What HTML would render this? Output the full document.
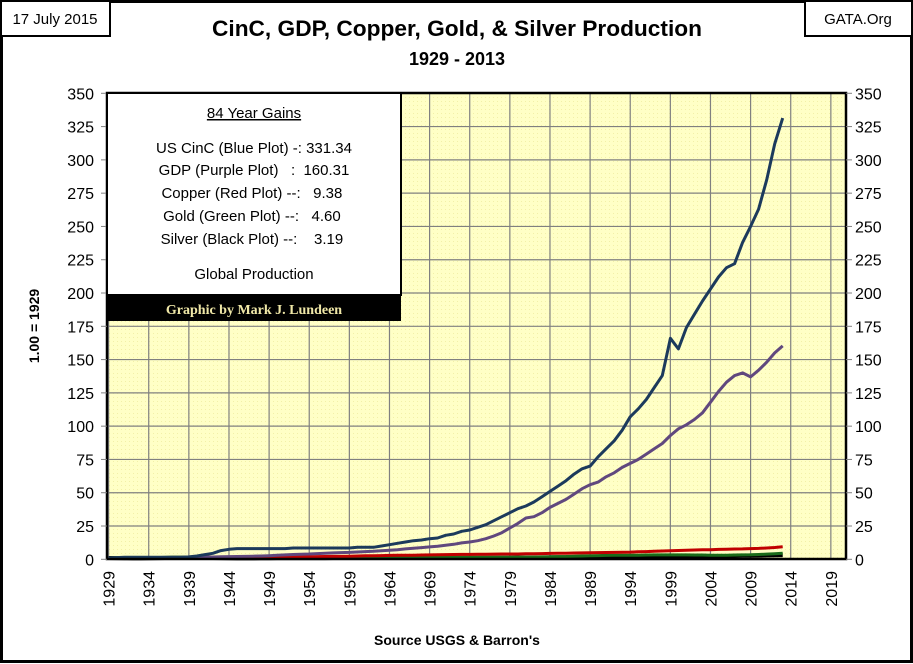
<!DOCTYPE html>
<html><head><meta charset="utf-8"><style>
html,body{margin:0;padding:0;background:#fff}
svg{display:block}
text{font-family:"Liberation Sans",Arial,sans-serif}
.pre{white-space:pre}
</style></head><body>
<svg id="chart" width="913" height="664" viewBox="0 0 913 664" xmlns="http://www.w3.org/2000/svg">
<defs>
<pattern id="dots" width="4" height="4" patternUnits="userSpaceOnUse"><rect width="4" height="4" fill="#ffffc6"/><rect x="1" y="1" width="1" height="1" fill="#f2f0a8"/></pattern>
</defs>
<rect x="1.5" y="1.5" width="910" height="660" fill="#fff" stroke="#000" stroke-width="3"/>
<rect x="107" y="93" width="739" height="466" fill="url(#dots)"/>
<g id="grid"></g>
<g id="series"></g>
<rect x="107" y="93" width="739" height="466" fill="none" stroke="#000" stroke-width="2.5"/>
<g id="axes"></g>
<rect x="1" y="1" width="109" height="35" fill="#fff" stroke="#000" stroke-width="2"/>
<text x="55" y="24" font-size="15" text-anchor="middle">17 July 2015</text>
<rect x="805" y="1" width="107" height="35" fill="#fff" stroke="#000" stroke-width="2"/>
<text x="858" y="24" font-size="15" text-anchor="middle">GATA.Org</text>
<text x="457" y="36" font-size="22" font-weight="bold" text-anchor="middle" textLength="490" lengthAdjust="spacingAndGlyphs">CinC, GDP, Copper, Gold, &amp; Silver Production</text>
<text x="457" y="65" font-size="18" font-weight="bold" text-anchor="middle">1929 - 2013</text>
<text transform="translate(39,326) rotate(-90)" font-size="14" font-weight="bold" text-anchor="middle">1.00 = 1929</text>
<text x="457" y="645" font-size="14" font-weight="bold" text-anchor="middle">Source USGS &amp; Barron's</text>
<g>
<rect x="107" y="93" width="294" height="202" fill="#fff" stroke="#000" stroke-width="2"/>
<rect x="107" y="295" width="294" height="26" fill="#000"/>
<text x="254" y="118" font-size="15" text-anchor="middle" text-decoration="underline">84 Year Gains</text>
<text class="pre" x="254" y="153" font-size="15" text-anchor="middle">US CinC (Blue Plot) -: 331.34</text>
<text class="pre" x="254" y="175" font-size="15" text-anchor="middle">GDP (Purple Plot)   :  160.31</text>
<text class="pre" x="254" y="198" font-size="15" text-anchor="middle">Copper (Red Plot) --:   9.38 </text>
<text class="pre" x="254" y="221" font-size="15" text-anchor="middle">Gold (Green Plot) --:   4.60 </text>
<text class="pre" x="254" y="244" font-size="15" text-anchor="middle">Silver (Black Plot) --:    3.19 </text>
<text x="254" y="279" font-size="15" text-anchor="middle">Global Production</text>
<text x="254" y="314" font-size="14" font-weight="bold" fill="#f0e8a8" text-anchor="middle" style="font-family:'Liberation Serif',serif">Graphic by Mark J. Lundeen</text>
</g>
</svg>
<script>
const startYear = 1929;
const yTicks = [0,25,50,75,100,125,150,175,200,225,250,275,300,325,350];
const xTickYears = [1929,1934,1939,1944,1949,1954,1959,1964,1969,1974,1979,1984,1989,1994,1999,2004,2009,2014,2019];
const cinc = [1,1.3,1.5,1.5,1.5,1.5,1.5,1.5,1.6,1.6,1.8,2.5,3.5,4.5,6.5,7.5,8,8,8,8,8,8,8,8.5,8.5,8.5,8.5,8.5,8.5,8.5,8.5,9,9,9,10,11,12,13,14,14.5,15.5,16,18,19,21,22,24,26,29,32,35,38,40,43,47,51,55,59,64,68,70,77,83,89,97,107,113,120,129,138,166,158,174,184,194,203,212,219,222,238,250,263,285,312,331.34];
const gdp = [1,1,1,1,1,1,1,1,1,1,1,1.3,1.5,1.7,1.9,2,2.1,2.2,2.3,2.5,2.7,3,3.3,3.6,3.8,4,4.3,4.6,4.8,5,5.2,5.5,5.8,6,6.4,6.8,7.2,7.8,8.3,8.8,9.3,9.8,10.5,11.3,12.3,13,14,15.5,17.5,20,23.5,27,31,32,35,39,42,45,49,53,56,58,62,65,69,72,75,79,83,87,93,98,101,105,110,118,126,133,138,140,137,142,148,155,160.31];
const copper = [1,0.8,0.7,0.6,0.6,0.6,0.7,0.8,1,1.1,1.2,1.3,1.4,1.5,1.5,1.5,1.4,1.4,1.5,1.6,1.6,1.7,1.8,1.8,1.8,1.9,2,2.1,2.2,2.2,2.3,2.5,2.6,2.7,2.8,2.9,3,3.1,3.1,3.2,3.3,3.4,3.5,3.6,3.7,3.7,3.8,3.8,3.9,4,4,4,4.1,4.2,4.3,4.4,4.5,4.6,4.7,4.8,4.9,5,5.1,5.2,5.3,5.4,5.6,5.8,6,6.2,6.4,6.6,6.8,7,7.1,7.2,7.4,7.6,7.7,7.8,8,8.2,8.5,8.9,9.38];
const gold = [1,1.05,1.1,1.15,1.2,1.25,1.3,1.4,1.5,1.6,1.7,1.7,1.6,1.4,1.2,1.1,1.1,1.1,1.1,1.2,1.2,1.2,1.2,1.2,1.2,1.3,1.3,1.4,1.4,1.5,1.5,1.5,1.6,1.6,1.6,1.6,1.6,1.6,1.6,1.6,1.6,1.6,1.6,1.5,1.4,1.4,1.4,1.4,1.4,1.4,1.4,1.5,1.5,1.6,1.7,1.8,2,2.1,2.3,2.5,2.6,2.8,2.9,3,3.1,3.1,3.1,3.2,3.3,3.3,3.3,3.3,3.3,3.2,3.2,3.1,3.1,3.1,3.2,3.3,3.4,3.6,3.9,4.2,4.6];
const silver = [1,0.9,0.8,0.7,0.7,0.8,0.9,1,1.1,1.1,1.1,1.1,1.1,1,0.9,0.8,0.7,0.7,0.7,0.8,0.8,0.9,0.9,0.9,0.9,0.9,0.9,0.9,1,1,1,1,1,1,1,1,1,1,1,1,1,1.1,1.1,1.1,1.1,1.1,1.1,1.1,1.1,1.2,1.2,1.3,1.3,1.3,1.4,1.5,1.5,1.6,1.7,1.7,1.7,1.8,1.8,1.8,1.8,1.8,1.9,1.9,2,2.1,2.1,2.1,2.2,2.2,2.3,2.4,2.4,2.4,2.5,2.6,2.7,2.8,2.9,3,3.19];
const seriesList = [
  {name:'silver-line', vals:silver, color:'#000000', w:4},
  {name:'gold-line', vals:gold, color:'#1a6b1a', w:3},
  {name:'copper-line', vals:copper, color:'#c00000', w:3},
  {name:'gdp-line', vals:gdp, color:'#60487e', w:3},
  {name:'cinc-line', vals:cinc, color:'#1c3a5c', w:3}
];
const NS='http://www.w3.org/2000/svg';
const X0=108.6, XPER=8.025, Y0=559.3, YPER=466/350;
function xs(yr){return X0+(yr-1929)*XPER;}
function ys(v){return Y0-v*YPER;}
const grid=document.getElementById('grid'), axes=document.getElementById('axes'), ser=document.getElementById('series');
function mk(tag,attrs,parent){const e=document.createElementNS(NS,tag);for(const k in attrs)e.setAttribute(k,attrs[k]);parent.appendChild(e);return e;}
yTicks.forEach(t=>{
  const y=ys(t);
  const g=mk('line',{x1:107,x2:846,y1:y,y2:y,stroke:'#808080','stroke-width':1.2},grid);
  
  
  mk('line',{x1:101,x2:107,y1:y,y2:y,stroke:'#808080'},axes);
  mk('line',{x1:846,x2:852,y1:y,y2:y,stroke:'#808080'},axes);
  const l=mk('text',{x:94,y:y+6,'font-size':16,'text-anchor':'end'},axes);l.textContent=t;
  
  
  const r=mk('text',{x:855,y:y+6,'font-size':16,'text-anchor':'start'},axes);r.textContent=t;
  
  
});
xTickYears.forEach(yr=>{
  const x=xs(yr);
  const g=mk('line',{x1:x,x2:x,y1:93,y2:559,stroke:'#808080','stroke-width':1.2},grid);
  
  
  const t=mk('text',{transform:`translate(${x+6},571) rotate(-90)`,'font-size':16,'text-anchor':'end'},axes);t.textContent=yr;
  
  
});
seriesList.forEach(s=>{
  const pts=s.vals.map((v,i)=>xs(startYear+i).toFixed(1)+','+ys(v).toFixed(1)).join(' ');
  const p=mk('polyline',{points:pts,fill:'none',stroke:s.color,'stroke-width':s.w,'stroke-linejoin':'round'},ser);
  
  
});
</script>
</body></html>
